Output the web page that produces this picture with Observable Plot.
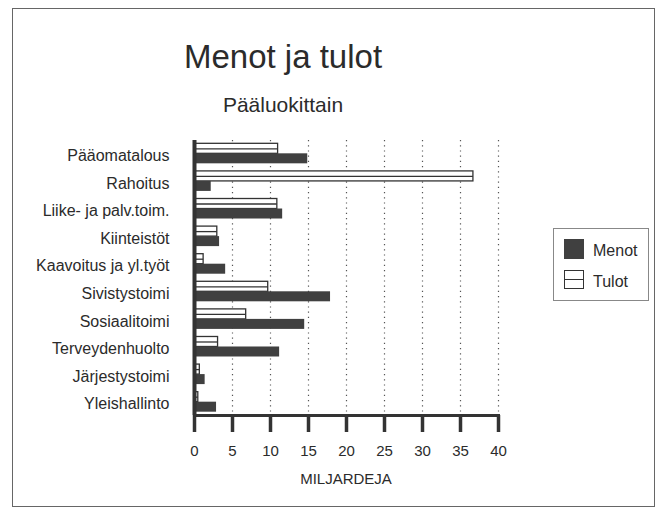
<!DOCTYPE html>
<html>
<head>
<meta charset="utf-8">
<script src="https://cdn.jsdelivr.net/npm/d3@7"></script>
<script src="https://cdn.jsdelivr.net/npm/@observablehq/plot@0.6"></script>
<style>
  html, body { margin: 0; padding: 0; background: #fff; }
  #wrap { position: relative; width: 667px; height: 516px; font-family: "Liberation Sans", Arial, sans-serif; color: #2b2b2b; overflow: hidden; }
  #frame { position: absolute; left: 12px; top: 8px; width: 643px; height: 499px; border: 1.5px solid #666; box-sizing: border-box; }
  .t { position: absolute; white-space: nowrap; transform: translate(-50%, -50%); }
  #title { left: 283px; top: 57px; font-size: 33px; }
  #subtitle { left: 283px; top: 105px; font-size: 21px; }
  #xlabel { left: 346px; top: 478px; font-size: 15px; }
  #legend { position: absolute; left: 553px; top: 228px; width: 96px; height: 73px; border: 1px solid #888; box-sizing: border-box; }
  .sw { position: absolute; left: 10px; width: 20px; height: 20px; box-sizing: border-box; }
  .lt { position: absolute; left: 39px; font-size: 16px; transform: translateY(-50%); }
  #plot { position: absolute; left: 0; top: 0; }
</style>
</head>
<body>
<div id="wrap">
  <div id="frame"></div>
  <div id="plot"></div>
  <div class="t" id="title">Menot ja tulot</div>
  <div class="t" id="subtitle">Pääluokittain</div>
  <div class="t" id="xlabel">MILJARDEJA</div>
  <div id="legend">
    <div class="sw" style="top:10px; background:#404040;"></div>
    <div class="lt" style="top:22px;">Menot</div>
    <div class="sw" style="top:41px; height:19px; background:#fff; border:1.3px solid #333;"><div style="position:absolute;left:0;right:0;top:7.5px;border-top:1.3px solid #333;"></div></div>
    <div class="lt" style="top:53px;">Tulot</div>
  </div>
</div>
<script>
const categories = ["Pääomatalous", "Rahoitus", "Liike- ja palv.toim.", "Kiinteistöt", "Kaavoitus ja yl.työt", "Sivistystoimi", "Sosiaalitoimi", "Terveydenhuolto", "Järjestystoimi", "Yleishallinto"];
const menot = [14.9, 2.2, 11.6, 3.3, 4.1, 17.9, 14.5, 11.2, 1.4, 2.9];
const tulot = [11.0, 36.7, 10.9, 3.0, 1.2, 9.7, 6.8, 3.1, 0.7, 0.5];
const xTicks = [0, 5, 10, 15, 20, 25, 30, 35, 40];
const gridTicks = [5, 10, 15, 20, 25, 30, 35, 40];

const rows = categories.map((c, i) => ({cat: c, menot: menot[i], tulot: tulot[i]}));

const chart = Plot.plot({
  width: 667,
  height: 516,
  marginLeft: 194,
  marginRight: 169,
  marginTop: 140,
  marginBottom: 101,
  style: {fontFamily: "'Liberation Sans', Arial, sans-serif", fontSize: "15px", color: "#2b2b2b", background: "transparent"},
  x: {domain: [0, 40]},
  y: {domain: categories, paddingInner: 0.275, paddingOuter: 0.12, round: false},
  marks: [
    Plot.gridX(gridTicks, {stroke: "#555", strokeOpacity: 1, strokeWidth: 1.2, strokeDasharray: "1.2,4"}),
    Plot.barX(rows, {y: "cat", x: "tulot", insetBottom: 10, fill: "#fff", stroke: "#333", strokeWidth: 1.3}),
    Plot.ruleY(rows, {y: "cat", x1: 0, x2: "tulot", dy: -5, stroke: "#333", strokeWidth: 1.3}),
    Plot.barX(rows, {y: "cat", x: "menot", insetTop: 10, fill: "#404040"}),
    Plot.ruleX([0], {stroke: "#333", strokeWidth: 4}),
    Plot.frame({anchor: "bottom", stroke: "#333", strokeWidth: 3}),
    Plot.axisX({ticks: xTicks, tickSize: 17, tickPadding: 13, strokeWidth: 3.5, stroke: "#333", label: null, fontSize: 15}),
    Plot.axisY({tickSize: 0, tickPadding: 25, label: null, fontSize: 16, dy: 2})
  ]
});
document.getElementById("plot").appendChild(chart);
</script>
</body>
</html>
